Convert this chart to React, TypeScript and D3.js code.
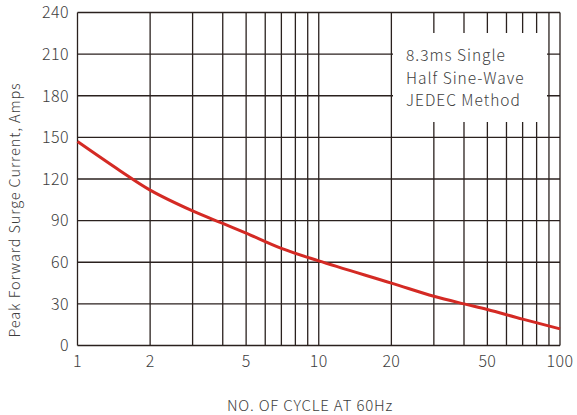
import { useEffect, useRef } from 'react';
import * as d3 from 'd3';

const cycles = [1, 1.5, 2, 3, 4, 5, 7, 10, 20, 30, 40, 50, 70, 100];
const current = [147, 126, 112, 97, 88, 81, 70, 61, 45, 35.5, 30, 26, 19, 12];
const yTicks = [0, 30, 60, 90, 120, 150, 180, 210, 240];
const xGrid = [1, 2, 3, 4, 5, 6, 7, 8, 9, 10, 20, 30, 40, 50, 60, 70, 80, 90, 100];
const xLabels = [1, 2, 5, 10, 20, 50, 100];
const noteLines = ['8.3ms Single', 'Half Sine-Wave', 'JEDEC Method'];

const W = 577, H = 415;
const FONT = '"Noto Sans CJK SC", "Noto Sans", sans-serif';
const TEXT = '#3d3d3d';

export default function App() {
  const ref = useRef<SVGSVGElement>(null);

  useEffect(() => {
    const svg = d3.select(ref.current);
    svg.selectAll('*').remove();

    const margin = { top: 12.5, right: 17, bottom: 69.5, left: 77.5 };
    const width = W - margin.left - margin.right;
    const height = H - margin.top - margin.bottom;

    const x = d3.scaleLog().domain([1, 100]).range([margin.left, margin.left + width]);
    const y = d3.scaleLinear().domain([0, 240]).range([margin.top + height, margin.top]);

    const grid = svg.append('g');
    grid.selectAll('line.gx').data(xGrid).enter().append('line').attr('class', 'gx')
      .attr('x1', d => x(d)).attr('x2', d => x(d)).attr('y1', y(0)).attr('y2', y(240))
      .attr('stroke', '#2a211e').attr('stroke-width', 1.3);
    grid.selectAll('line.gy').data(yTicks).enter().append('line').attr('class', 'gy')
      .attr('x1', x(1)).attr('x2', x(100)).attr('y1', d => y(d)).attr('y2', d => y(d))
      .attr('stroke', '#2a211e').attr('stroke-width', 1.3);

    // note box covers the grid
    svg.append('rect').attr('x', 393).attr('y', 33).attr('width', 154).attr('height', 89)
      .attr('fill', '#fff');
    svg.append('g').selectAll('text').data(noteLines).enter().append('text')
      .attr('x', 406).attr('y', (d, i) => 61 + i * 22.5)
      .style('font-family', FONT).style('font-weight', 300).style('font-size', '15.5px')
      .style('letter-spacing', '1px').style('fill', TEXT)
      .text(d => d);

    const line = d3.line<number>()
      .x((d, i) => x(cycles[i])).y(d => y(d))
      .curve(d3.curveCatmullRom.alpha(0.5));
    svg.append('path').datum(current).attr('d', line)
      .attr('fill', 'none').attr('stroke', '#d42a24').attr('stroke-width', 3);

    svg.append('g').selectAll('text').data(yTicks).enter().append('text')
      .attr('x', 69).attr('y', d => y(d)).attr('dy', '0.36em').attr('text-anchor', 'end')
      .style('font-family', FONT).style('font-weight', 300).style('font-size', '16px')
      .style('letter-spacing', '0.4px').style('fill', TEXT)
      .text(d => d);

    svg.append('g').selectAll('text').data(xLabels).enter().append('text')
      .attr('x', d => x(d)).attr('y', 367).attr('text-anchor', 'middle')
      .style('font-family', FONT).style('font-weight', 300).style('font-size', '16px')
      .style('letter-spacing', '0.4px').style('fill', TEXT)
      .text(d => d);

    svg.append('text').attr('x', 310).attr('y', 410.5).attr('text-anchor', 'middle')
      .style('font-family', FONT).style('font-weight', 300).style('font-size', '15px')
      .style('letter-spacing', '0.8px').style('fill', TEXT)
      .text('NO. OF CYCLE AT 60Hz');

    svg.append('text').attr('transform', 'translate(20,210) rotate(-90)')
      .attr('text-anchor', 'middle')
      .style('font-family', FONT).style('font-weight', 300).style('font-size', '14.5px')
      .style('letter-spacing', '0.9px').style('fill', TEXT)
      .text('Peak Forward Surge Current, Amps');
  }, []);

  return (
    <svg ref={ref} width={W} height={H}
      style={{ position: 'absolute', left: 0, top: 0, background: '#fff' }} />
  );
}
